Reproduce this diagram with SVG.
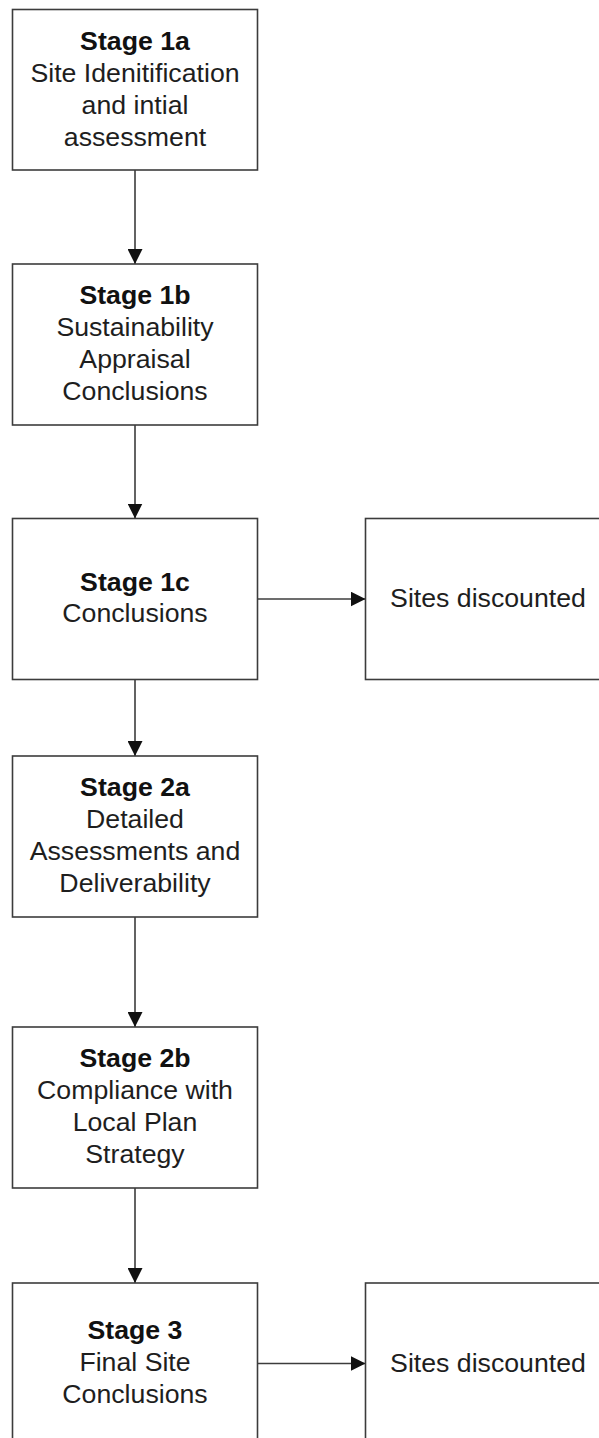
<svg xmlns="http://www.w3.org/2000/svg" width="599" height="1438" viewBox="0 0 599 1438">
  <style>
    .box { fill: #ffffff; stroke: #3c3c3c; stroke-width: 1.6; }
    .conn { fill: none; stroke: #3c3c3c; stroke-width: 1.6; }
    text { font-family: "Liberation Sans", Arial, sans-serif; font-size: 26.7px; fill: #1e1e1e; text-anchor: middle; }
    .b { font-weight: bold; fill: #111111; }
  </style>
  <defs>
    <marker id="arrow" viewBox="0 0 15 15" refX="15" refY="7.5" markerWidth="15" markerHeight="15" markerUnits="userSpaceOnUse" orient="auto">
      <path d="M0,0 L15,7.5 L0,15 Z" fill="#111111"/>
    </marker>
  </defs>
  <rect width="599" height="1438" fill="#ffffff"/>

  <g id="connectors">
    <line class="conn" x1="135" y1="170" x2="135" y2="264" marker-end="url(#arrow)"/>
    <line class="conn" x1="135" y1="425" x2="135" y2="518.5" marker-end="url(#arrow)"/>
    <line class="conn" x1="135" y1="679.5" x2="135" y2="756" marker-end="url(#arrow)"/>
    <line class="conn" x1="135" y1="917" x2="135" y2="1027" marker-end="url(#arrow)"/>
    <line class="conn" x1="135" y1="1188" x2="135" y2="1283" marker-end="url(#arrow)"/>
    <line class="conn" x1="257.5" y1="599" x2="365.5" y2="599" marker-end="url(#arrow)"/>
    <line class="conn" x1="257.5" y1="1363.5" x2="365.5" y2="1363.5" marker-end="url(#arrow)"/>
  </g>

  <g id="stage1a">
    <rect class="box" x="12.5" y="9.5" width="245" height="160.5"/>
    <text x="135" y="50" class="b">Stage 1a</text>
    <text x="135" y="82">Site Idenitification</text>
    <text x="135" y="114">and intial</text>
    <text x="135" y="146">assessment</text>
  </g>

  <g id="stage1b">
    <rect class="box" x="12.5" y="264" width="245" height="161"/>
    <text x="135" y="303.5" class="b">Stage 1b</text>
    <text x="135" y="335.5">Sustainability</text>
    <text x="135" y="367.5">Appraisal</text>
    <text x="135" y="399.5">Conclusions</text>
  </g>

  <g id="stage1c">
    <rect class="box" x="12.5" y="518.5" width="245" height="161"/>
    <text x="135" y="591" class="b">Stage 1c</text>
    <text x="135" y="622">Conclusions</text>
  </g>

  <g id="discounted1">
    <rect class="box" x="365.5" y="518.5" width="245" height="161"/>
    <text x="488" y="607">Sites discounted</text>
  </g>

  <g id="stage2a">
    <rect class="box" x="12.5" y="756" width="245" height="161"/>
    <text x="135" y="795.5" class="b">Stage 2a</text>
    <text x="135" y="827.5">Detailed</text>
    <text x="135" y="859.5">Assessments and</text>
    <text x="135" y="891.5">Deliverability</text>
  </g>

  <g id="stage2b">
    <rect class="box" x="12.5" y="1027" width="245" height="161"/>
    <text x="135" y="1066.5" class="b">Stage 2b</text>
    <text x="135" y="1098.5">Compliance with</text>
    <text x="135" y="1130.5">Local Plan</text>
    <text x="135" y="1162.5">Strategy</text>
  </g>

  <g id="stage3">
    <rect class="box" x="12.5" y="1283" width="245" height="161"/>
    <text x="135" y="1339" class="b">Stage 3</text>
    <text x="135" y="1371">Final Site</text>
    <text x="135" y="1403">Conclusions</text>
  </g>

  <g id="discounted2">
    <rect class="box" x="365.5" y="1283" width="245" height="161"/>
    <text x="488" y="1372">Sites discounted</text>
  </g>
</svg>
